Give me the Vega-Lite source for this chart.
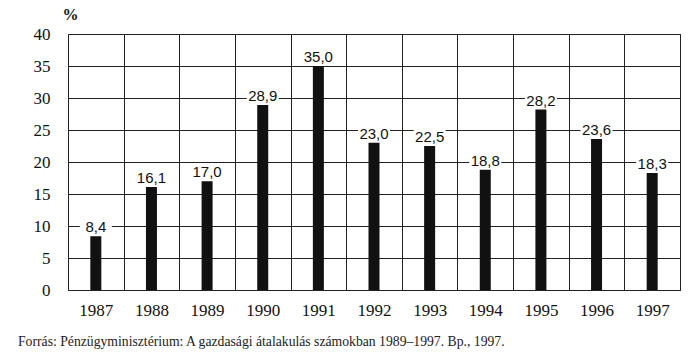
{
  "$schema": "https://vega.github.io/schema/vega-lite/v6.json",
  "autosize": "none",
  "width": 612,
  "height": 256,
  "padding": {"left": 68, "top": 34, "right": 20, "bottom": 70},
  "background": "white",
  "config": {
    "view": {"stroke": "#222", "strokeWidth": 1},
    "font": "Liberation Serif"
  },
  "title": {
    "text": "Forrás: Pénzügyminisztérium: A gazdasági átalakulás számokban 1989–1997. Bp., 1997.",
    "orient": "bottom",
    "anchor": "start",
    "frame": "group",
    "dx": -50,
    "offset": 17,
    "font": "Liberation Serif",
    "fontSize": 13.7,
    "fontWeight": "normal",
    "color": "#222"
  },
  "data": {
    "values": [
      {"year": "1987", "value": 8.4, "label": "8,4"},
      {"year": "1988", "value": 16.1, "label": "16,1"},
      {"year": "1989", "value": 17.0, "label": "17,0"},
      {"year": "1990", "value": 28.9, "label": "28,9"},
      {"year": "1991", "value": 35.0, "label": "35,0"},
      {"year": "1992", "value": 23.0, "label": "23,0"},
      {"year": "1993", "value": 22.5, "label": "22,5"},
      {"year": "1994", "value": 18.8, "label": "18,8"},
      {"year": "1995", "value": 28.2, "label": "28,2"},
      {"year": "1996", "value": 23.6, "label": "23,6"},
      {"year": "1997", "value": 18.3, "label": "18,3"}
    ]
  },
  "encoding": {
    "x": {
      "field": "year",
      "type": "ordinal",
      "scale": {"paddingInner": 0, "paddingOuter": 0},
      "axis": {
        "title": null,
        "labelAngle": 0,
        "labelFont": "Liberation Serif",
        "labelFontSize": 17,
        "labelColor": "#111",
        "labelPadding": 12,
        "ticks": false,
        "domain": false,
        "grid": true,
        "gridColor": "#222",
        "gridOpacity": 1,
        "gridWidth": 1,
        "tickBand": "extent"
      }
    },
    "y": {
      "field": "value",
      "type": "quantitative",
      "scale": {"domain": [0, 40], "nice": false},
      "axis": {
        "title": "%",
        "titleAngle": 0,
        "titleX": -6,
        "titleY": -12,
        "titleAlign": "left",
        "titleFont": "Liberation Serif",
        "titleFontSize": 16,
        "titleFontWeight": "bold",
        "titleColor": "#111",
        "values": [0, 5, 10, 15, 20, 25, 30, 35, 40],
        "labelOverlap": false,
        "labelFont": "Liberation Serif",
        "labelFontSize": 17,
        "labelColor": "#111",
        "labelPadding": 18,
        "ticks": false,
        "domain": false,
        "grid": true,
        "gridColor": "#222",
        "gridOpacity": 1,
        "gridWidth": 1
      }
    }
  },
  "layer": [
    {
      "mark": {"type": "bar", "color": "#111", "width": 11}
    },
    {
      "mark": {"type": "bar", "color": "white", "width": 32, "yOffset": -2, "y2Offset": -16},
      "encoding": {
        "y2": {"field": "value"}
      }
    },
    {
      "mark": {"type": "text", "font": "Liberation Sans", "fontSize": 15, "color": "#111", "baseline": "alphabetic", "dy": -4},
      "encoding": {
        "text": {"field": "label"}
      }
    }
  ]
}
